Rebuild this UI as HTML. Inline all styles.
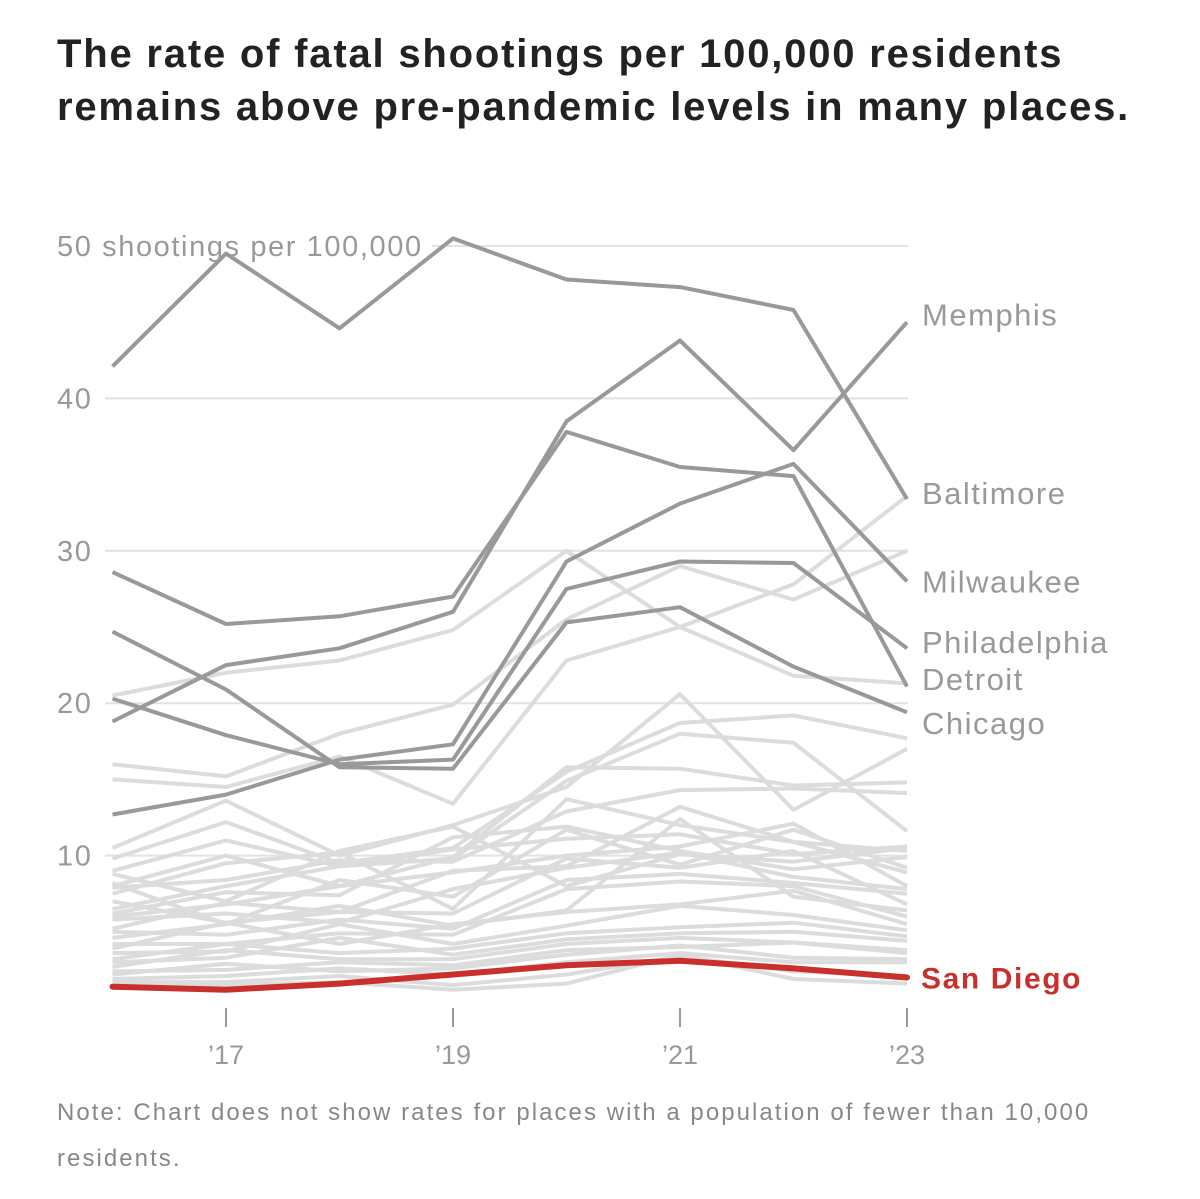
<!DOCTYPE html>
<html><head><meta charset="utf-8"><style>
body{margin:0;background:#fff;width:1200px;height:1199px;overflow:hidden;font-family:"Liberation Sans",sans-serif}
h1{position:absolute;left:57px;top:28px;margin:0;font-size:40px;line-height:53px;font-weight:bold;color:#222;letter-spacing:1.8px}
.note{position:absolute;left:57px;top:1090px;font-size:24px;line-height:46px;color:#888;letter-spacing:2.05px}
</style></head><body>
<h1>The rate of fatal shootings per 100,000 residents<br>remains above pre-pandemic levels in many places.</h1>
<svg id="chart" width="1200" height="1199" style="position:absolute;left:0;top:0"></svg>
<div class="note">Note: Chart does not show rates for places with a population of fewer than 10,000<br>residents.</div>
<script>
const years=[2016,2017,2018,2019,2020,2021,2022,2023];
const yTicks=[10,20,30,40,50];
const xTicks=[2017,2019,2021,2023];
const xTickLabels=["’17","’19","’21","’23"];
const lightSeries=[
[20.5,22,22.8,24.8,30,25,21.8,21.3],
[16,15.2,18,19.9,25.5,29,26.8,30],
[15,14.5,16.5,13.4,22.8,25,27.8,33.6],
[10.5,13.6,10,12,14.5,20.6,13,17],
[9.8,12.2,9.5,10.5,15.5,18.7,19.2,17.7],
[9,11,9.3,9.8,14.9,18,17.4,11.6],
[8,10,8,9.9,15.8,15.7,14.6,14.8],
[7.9,8.4,9.7,9.6,12.9,14.3,14.4,14.1],
[7.5,9.5,10.2,6.5,13.7,12,10.9,10.3],
[6.5,8,9.3,10.4,11.1,11.4,10.1,10.6],
[6.2,7.6,7.4,11.2,11.9,10.3,9.1,9.9],
[6,6.8,8,8.9,10,10.6,12.1,8],
[5.8,6.2,5.6,7.8,9.2,10.2,8.6,7.8],
[5.2,6.9,6.3,6.2,9.8,9.2,10.3,6.8],
[5,4.8,5.8,5.2,8.4,8.8,8.2,7.5],
[4.6,5.5,6.7,5.4,6.4,12.4,7.3,6.4],
[4.2,4.2,4.9,4.8,7.8,8.3,8,6],
[3.9,5.6,4.2,5.5,6.3,6.8,7.7,5.5],
[3.6,3.7,5.5,4.2,5.4,6.7,6.1,5.1],
[3.2,4.2,3.6,3.9,4.9,5.3,5.6,4.7],
[3,3.3,4.6,3.5,4.5,4.9,5,4.4],
[2.7,3.8,3.2,3.2,4.2,4.6,4.3,3.8],
[2.4,2.5,3,2.8,3.8,4,4.3,3.6],
[2.2,2.9,2.4,2.6,3.5,4.1,3.3,3.2],
[1.9,2.1,2.6,2.2,3,3.6,3,3],
[1.7,1.7,2.1,1.5,2.2,3.4,2.4,2.1],
[1.6,1.5,1.7,1.2,1.6,3.5,1.9,1.6],
[8.8,7,10.3,11.9,8,10.1,9.6,10.5],
[8.2,5.5,8.4,7.3,11.7,9.4,11.7,9.2],
[7,5.6,6.3,9,9.3,13.2,10.9,8.9]
];
const darkNames=["Baltimore","Memphis","Milwaukee","Detroit","Philadelphia","Chicago"];
const darkSeries=[
[42.1,49.5,44.6,50.5,47.8,47.3,45.8,33.4],
[18.8,22.5,23.6,26,38.5,43.8,36.6,45],
[12.7,14,16.3,17.3,29.3,33.1,35.7,28],
[28.6,25.2,25.7,27,37.8,35.5,34.9,21.1],
[20.3,17.9,16,16.3,27.5,29.3,29.2,23.6],
[24.7,20.9,15.8,15.7,25.3,26.3,22.4,19.4]
];
const labelNames=["Memphis","Baltimore","Milwaukee","Philadelphia","Detroit","Chicago"];
const labelValues=[45.5,33.8,28,24,21.6,18.7];
const highlightName="San Diego";
const highlightSeries=[1.4,1.2,1.6,2.2,2.8,3.1,2.6,2.0];

const svg=document.getElementById('chart');
const NS='http://www.w3.org/2000/svg';
const x=yr=>112.5+(yr-2016)*113.5;
const y=v=>1008-v*15.24;
function mk(tag,attrs){const e=document.createElementNS(NS,tag);for(const k in attrs)e.setAttribute(k,attrs[k]);svg.appendChild(e);return e;}
yTicks.forEach((t,i)=>{
  const g=mk('line',{x1:t===50?432:105,x2:908,y1:y(t),y2:y(t),stroke:'#e2e2e2','stroke-width':2});
  
  
  const tx=mk('text',{x:57,y:y(t)+10,'font-size':29,fill:'#999','letter-spacing':1.6,'font-family':'Liberation Sans, sans-serif'});
  tx.textContent=t===50?'50 shootings per 100,000':String(t);
  
  
});
xTicks.forEach((t,i)=>{
  const l=mk('line',{x1:x(t),x2:x(t),y1:1008,y2:1027,stroke:'#999','stroke-width':2});
  
  
  const tx=mk('text',{x:x(t),y:1064,'font-size':27,fill:'#999','text-anchor':'middle','font-family':'Liberation Sans, sans-serif'});
  tx.textContent=xTickLabels[i];
  
  
});
function path(s){return s.map((v,i)=>(i?'L':'M')+x(years[i]).toFixed(1)+','+y(v).toFixed(1)).join('');}
lightSeries.forEach((s,i)=>{
  const p=mk('path',{d:path(s),fill:'none',stroke:'#dcdcdc','stroke-width':4,'stroke-linejoin':'round'});
  
  
});
darkSeries.forEach((s,i)=>{
  const p=mk('path',{d:path(s),fill:'none',stroke:'#999','stroke-width':4,'stroke-linejoin':'round'});
  
  
});
const hp=mk('path',{d:path(highlightSeries),fill:'none',stroke:'#c9302c','stroke-width':6,'stroke-linejoin':'round','stroke-linecap':'round'});


labelNames.forEach((n,i)=>{
  const tx=mk('text',{x:922,y:y(labelValues[i])+11,'font-size':31,fill:'#999','letter-spacing':1.5,'font-family':'Liberation Sans, sans-serif'});
  tx.textContent=n;
  
  
});
const sd=mk('text',{x:921,y:y(highlightSeries[7])+11,'font-size':30,fill:'#c9302c','font-weight':'bold','letter-spacing':1.6,'font-family':'Liberation Sans, sans-serif'});
sd.textContent=highlightName;


</script>
</body></html>
